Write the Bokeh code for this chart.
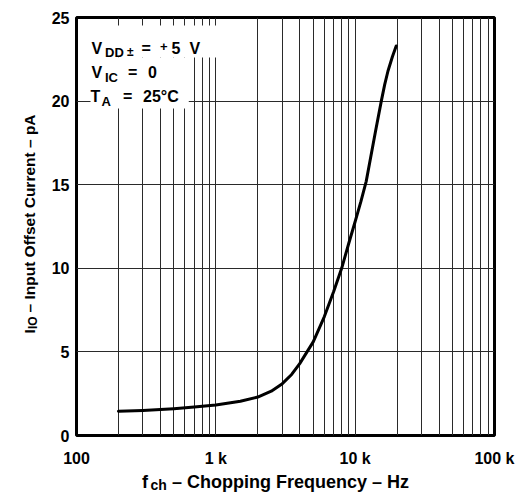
import math
from bokeh.plotting import figure
from bokeh.models import Label, FixedTicker
from bokeh.embed import file_html
from bokeh.resources import INLINE

# ---- data ----
freq_hz = [200, 300, 400, 500, 700, 1000, 1500, 2000, 2500, 3000, 3500, 4000,
           5000, 6000, 7000, 8000, 9000, 10000, 11000, 12000, 14000, 15400,
           16300, 17200, 18500, 19700]
io_pa = [1.45, 1.5, 1.55, 1.6, 1.7, 1.83, 2.05, 2.3, 2.65, 3.1, 3.65, 4.3,
         5.6, 7.1, 8.6, 10.0, 11.5, 12.8, 14.0, 15.2, 18.2, 20.0,
         21.0, 21.8, 22.65, 23.3]

x_ticks = [100, 1000, 10000, 100000]
x_tick_labels = ["100", "1 k", "10 k", "100 k"]
y_ticks = [0, 5, 10, 15, 20, 25]
y_grid = [5, 10, 15, 20]
x_grid = sorted(set([m * d for d in (100, 1000, 10000) for m in range(1, 10)
                     if 100 < m * d < 100000] + [1000, 10000]))

FONT = "Liberation Sans"

p = figure(width=517, height=492, x_axis_type="log",
           x_range=(100, 100000), y_range=(0, 25),
           output_backend="svg", toolbar_location=None,
           min_border_left=76, min_border_right=23,
           min_border_top=17, min_border_bottom=57)

p.background_fill_color = "white"
p.border_fill_color = "white"
p.outline_line_color = "black"
p.outline_line_width = 3

p.xaxis.ticker = FixedTicker(ticks=x_ticks)
p.xaxis.major_label_overrides = {t: l for t, l in zip(x_ticks, x_tick_labels)}
p.yaxis.ticker = FixedTicker(ticks=y_ticks)
p.xgrid.ticker = FixedTicker(ticks=x_grid)
p.ygrid.ticker = FixedTicker(ticks=y_grid)
for g in (p.xgrid, p.ygrid):
    g.grid_line_color = "#2a2a2a"
    g.grid_line_width = 1

for ax in (p.xaxis, p.yaxis):
    ax.axis_line_color = None
    ax.major_tick_line_color = None
    ax.minor_tick_line_color = None
    ax.major_tick_out = 0
    ax.major_tick_in = 0
    ax.major_label_text_font = FONT
    ax.major_label_text_font_style = "bold"
    ax.major_label_text_font_size = "16px"
    ax.major_label_text_color = "black"
p.xaxis.major_label_standoff = 14
p.yaxis.major_label_standoff = 7

# white boxes behind the condition text (hide grid lines)
def xdata(px):
    return 100 * 10 ** ((px - 76) / 139.0)

def ydata(py):
    return (435 - py) / 418.0 * 25

p.quad(left=[xdata(78), xdata(90)], right=[xdata(222), xdata(188)],
       top=[ydata(25), ydata(57)], bottom=[ydata(57), ydata(108)],
       fill_color="white", line_color=None)

p.line(freq_hz, io_pa, line_color="black", line_width=3,
       line_cap="round", line_join="round")

def txt(px, py, s, size, angle=0.0, place="center"):
    lbl = Label(x=100, y=25, x_offset=px - 76, y_offset=17 - py,
                text=s, text_font=FONT, text_font_style="bold",
                text_font_size=f"{size}px", text_color="black",
                text_align="left", text_baseline="alphabetic",
                angle=angle)
    p.add_layout(lbl, place)

# condition box text
txt(91, 47.7, "V", 16); txt(104.5, 51.7, "DD", 13); txt(126.5, 51.7, "\u00b1", 12)
txt(141, 47.7, "=", 16); txt(159.5, 46.2, "+", 13); txt(171, 47.7, "5", 16); txt(189, 47.7, "V", 16)
txt(91, 71.7, "V", 16); txt(104.5, 76.7, "IC", 13); txt(127.5, 71.7, "=", 16); txt(147.5, 71.7, "0", 16)
txt(90, 96, "T", 16); txt(101, 100.7, "A", 13); txt(122.5, 96, "=", 16); txt(142.5, 96, "25\u00b0C", 16)

# axis titles: placed in side panels (not clipped to the frame); each panel
# stays within its border so that the frame keeps its size
txt(141.5, 481, "f", 18, place="right")
txt(150, 484, "ch", 14, place="above")
txt(171.5, 481, "\u2013 Chopping Frequency \u2013 Hz", 18, place="below")

rot = math.pi / 2
txt(28.5, 333, "I", 15.5, rot, place="left")
txt(32.5, 328.5, "IO", 12, rot, place="left")
txt(28.5, 312, "\u2013 Input Offset Current \u2013 pA", 15.5, rot, place="left")

open("out.html", "w").write(file_html(p, INLINE))
